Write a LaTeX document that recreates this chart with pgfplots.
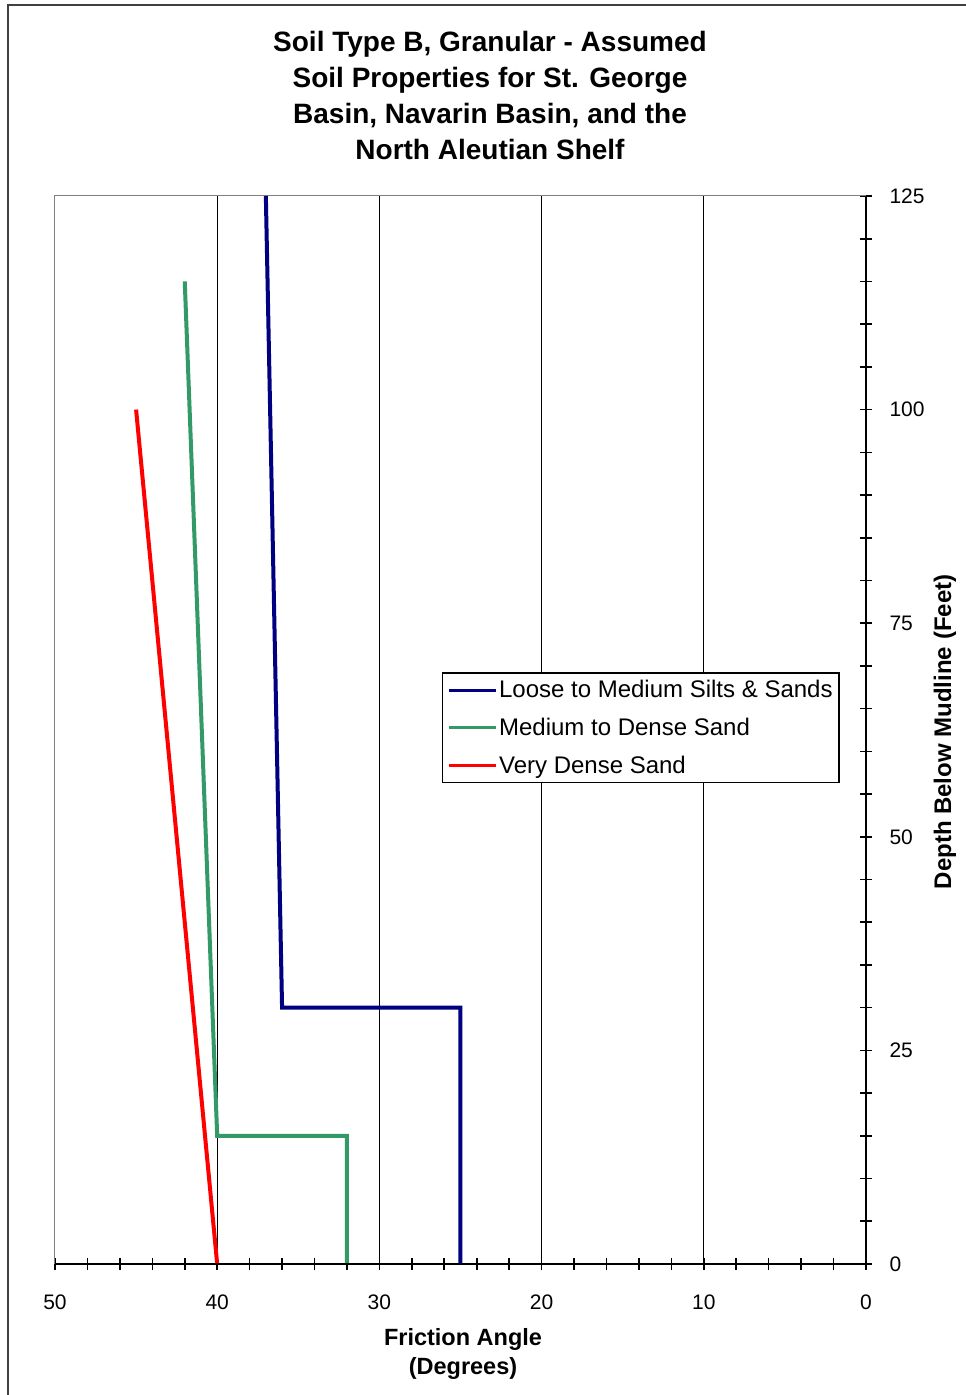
\documentclass[border=0pt]{standalone}
\usepackage{fontspec}
\setmainfont{Liberation Sans}
\usepackage{pgfplots}
\pgfplotsset{compat=1.18}
\definecolor{cblue}{RGB}{0,0,128}
\definecolor{cgreen}{RGB}{51,153,102}
\definecolor{cred}{RGB}{255,0,0}
\begin{document}
\begin{tikzpicture}[x=1pt,y=1pt]
\useasboundingbox (0,0) rectangle (966,1395);
\draw[line width=2pt, black!75] (8,0) -- (8,1390) -- (966,1390);
\node[font=\bfseries\fontsize{28}{36}\selectfont, align=center] at (490,1299) {Soil Type B, Granular - Assumed\\Soil Properties for St. George\\Basin, Navarin Basin, and the\\North Aleutian Shelf};
\node[font=\bfseries\fontsize{23.5}{29}\selectfont, align=center] at (463,41) {Friction Angle\\(Degrees)};
\node[font=\bfseries\fontsize{24}{29}\selectfont, rotate=90] at (945,663) {Depth Below Mudline (Feet)};
\begin{axis}[
 at={(55pt,131pt)}, anchor=south west,
 scale only axis, width=811pt, height=1068pt,
 x dir=reverse, xmin=0, xmax=50, ymin=0, ymax=125,
 axis line style={gray, line width=1pt},
 xtick pos=bottom, ytick pos=right,
 xtick={0,10,...,50}, ytick={0,25,...,125},
 minor x tick num=4, minor y tick num=4,
 tick align=center, major tick length=12pt, minor tick length=12pt,
 major tick style={black, line width=1.6pt},
 minor tick style={black, line width=1.6pt},
 /pgf/number format/assume math mode=true,
 ticklabel style={font=\fontsize{21}{25}\selectfont},
 xticklabel style={anchor=center, yshift=-32pt},
 yticklabel style={anchor=west, xshift=14pt},
 legend cell align=left,
 legend style={at={(0.477,0.554)}, anchor=north west, draw=black, line width=1.5pt, fill=white,
   font=\fontsize{24}{28}\selectfont, row sep=16pt, inner xsep=5pt, inner ysep=6pt,
   nodes={inner sep=1.5pt}},
 legend image code/.code={\draw[#1, line width=3pt] (0pt,0pt) -- (47pt,0pt);},
 clip=false,
]
\draw[black, line width=1.3pt] (axis cs:40,0) -- (axis cs:40,125);
\draw[black, line width=1.3pt] (axis cs:30,0) -- (axis cs:30,125);
\draw[black, line width=1.3pt] (axis cs:20,0) -- (axis cs:20,125);
\draw[black, line width=1.3pt] (axis cs:10,0) -- (axis cs:10,125);
\addplot[cblue, line width=4pt] coordinates {(25,0) (25,30) (36,30) (37,125)};
\addlegendentry{Loose to Medium Silts \& Sands}
\addplot[cgreen, line width=4pt] coordinates {(32,0) (32,15) (40,15) (42,115)};
\addlegendentry{Medium to Dense Sand}
\addplot[cred, line width=4pt] coordinates {(40,0) (45,100)};
\addlegendentry{Very Dense Sand}
\draw[black, line width=2pt] (rel axis cs:0,0) -- (rel axis cs:1,0) -- (rel axis cs:1,1);
\end{axis}
\end{tikzpicture}
\end{document}
